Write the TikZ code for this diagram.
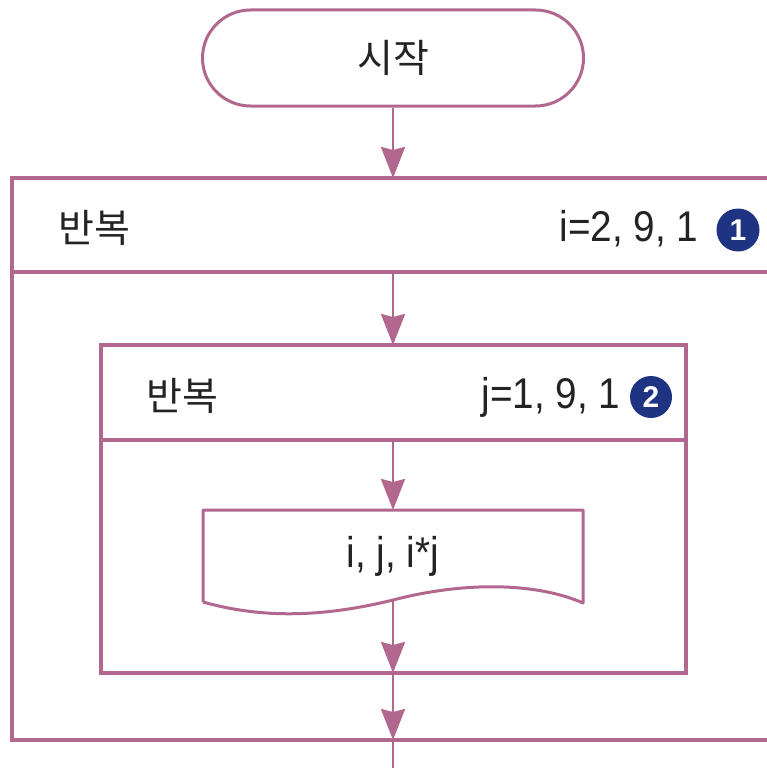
\documentclass[tikz,border=0pt]{standalone}
\usepackage{fontspec}
\setmainfont{Liberation Sans}
\newfontfamily\latn[FakeStretch=0.9]{Liberation Sans}
\newfontfamily\kr{Noto Sans CJK KR}
\usetikzlibrary{arrows.meta}
\definecolor{mauve}{RGB}{178,104,142}
\definecolor{mark}{RGB}{30,52,130}
\definecolor{txt}{RGB}{35,35,35}
\begin{document}
\begin{tikzpicture}[x=1pt,y=-1pt,
  every node/.style={text=txt},
  latintext/.style={font=\latn\fontsize{43}{46}\selectfont},
  kortext/.style={font=\kr\fontsize{39}{42}\selectfont},
  conn/.style={draw=mauve,line width=2.6pt,-{Stealth[length=31pt,width=24pt,inset=3pt]}},
  plainline/.style={draw=mauve,line width=2.6pt},
  box/.style={draw=mauve,line width=4.5pt,rectangle,inner sep=0pt,outer sep=0pt,anchor=north west},
  divider/.style={draw=mauve,line width=4.5pt},
  num/.style={circle,fill=mark,text=white,inner sep=0pt,minimum size=43pt,font=\fontsize{30}{30}\selectfont\bfseries}]
\clip (0,0) rectangle (767,768);
\useasboundingbox (0,0) rectangle (767,768);
% start terminal
\node[kortext,draw=mauve,line width=3pt,rounded corners=48pt,minimum width=381pt,minimum height=96pt] (start) at (393,58) {시작};
% outer loop box
\node[box,minimum width=763pt,minimum height=562pt] (outer) at (12,178) {};
\coordinate (o1) at (12,272);
\coordinate (o2) at (780,272);
\draw[divider] (o1) -- (o2);
\node[kortext,anchor=west] (olab) at (55,228) {반복};
\node[latintext,anchor=east] (orange) at (702,229) {i=2, 9, 1};
\node[num] (n1) at (738,230) {1};
% inner loop box
\node[box,minimum width=585pt,minimum height=328pt] (inner) at (101,345) {};
\coordinate (i1) at (101,440);
\coordinate (i2) at (686,440);
\draw[divider] (i1) -- (i2);
\node[kortext,anchor=west] (ilab) at (143,396) {반복};
\node[latintext,anchor=east] (irange) at (624,397) {j=1, 9, 1};
\node[num,minimum size=42pt] (n2) at (651,397) {2};
% document (output) shape
\node[latintext] (doc) at (393,556) {i, j, i*j};
\draw[draw=mauve,line width=3pt,line join=round]
  (203,602) -- (203,510) -- (583,510) -- (583,603)
  .. controls (540,584) and (470,580) .. (393,600)
  .. controls (320,618) and (260,618) .. (203,602);
% connector points
\coordinate (h1) at (393,272);
\coordinate (h2) at (393,440);
\coordinate (dtop) at (393,510);
\coordinate (dbot) at (393,600);
\coordinate (obot) at (393,740);
\coordinate (tail) at (393,770);
% connectors
\draw[conn] (start.south) -- (start.south |- outer.north);
\draw[conn] (h1) -- (inner.north -| h1);
\draw[conn] (h2) -- (dtop);
\draw[conn] (dbot) -- (inner.south -| dbot);
\draw[conn] (inner.south -| dbot) -- (obot);
\draw[plainline] (obot) -- (tail);
\end{tikzpicture}
\end{document}
